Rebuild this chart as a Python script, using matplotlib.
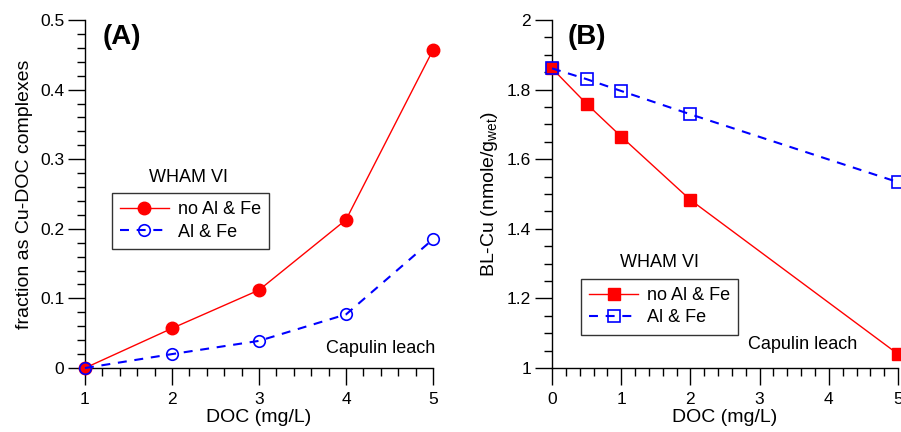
import matplotlib
matplotlib.use('Agg')
import matplotlib.pyplot as plt
from matplotlib.ticker import MultipleLocator

plt.rcParams['font.family'] = ['Liberation Sans', 'DejaVu Sans']

# panel A: fraction as Cu-DOC complexes
doc_a = [1, 2, 3, 4, 5]
frac_noalfe = [0.0, 0.057, 0.112, 0.213, 0.457]
frac_alfe = [0.0, 0.020, 0.039, 0.077, 0.185]

# panel B: BL-Cu
doc_b = [0, 0.5, 1, 2, 5]
blcu_noalfe = [1.861, 1.759, 1.665, 1.483, 1.040]
blcu_alfe = [1.861, 1.830, 1.796, 1.729, 1.534]

lab_no = 'no Al & Fe'
lab_al = 'Al & Fe'

fig = plt.figure(figsize=(9.01, 4.32), dpi=100)
axA = fig.add_axes([0.0943, 0.1481, 0.3863, 0.8056])
axB = fig.add_axes([0.6127, 0.1481, 0.3840, 0.8056])


def style(ax):
    for s in ['top', 'right']:
        ax.spines[s].set_visible(False)
    for s in ['left', 'bottom']:
        ax.spines[s].set_linewidth(1.0)
    ax.tick_params(which='major', direction='out', length=12, width=1, labelsize=12.5)
    ax.tick_params(which='minor', direction='out', length=6, width=1)
    ax.tick_params(axis='x', pad=5)
    ax.tick_params(axis='y', pad=3)


def legend(ax, x, y):
    leg = ax.legend(loc='upper left', bbox_to_anchor=(x, y), fontsize=13, frameon=True,
                    fancybox=False, edgecolor='#333333', handlelength=2.7, borderpad=0.45,
                    labelspacing=0.3, handletextpad=0.5, borderaxespad=0, framealpha=1)
    leg.get_frame().set_linewidth(1.0)
    return leg


# ---- A ----
axA.plot(doc_a, frac_noalfe, '-', color='red', lw=1, marker='o', ms=9,
         mfc='red', mec='red', clip_on=False, zorder=3, label=lab_no)
axA.plot(doc_a, frac_alfe, '--', color='blue', lw=1.5, dashes=(4.3, 3.7), marker='o', ms=8.3,
         mfc='none', mec='blue', mew=1.2, clip_on=False, zorder=3, label=lab_al)
axA.set_xlim(1, 5)
axA.set_ylim(0, 0.5)
axA.xaxis.set_major_locator(MultipleLocator(1))
axA.xaxis.set_minor_locator(MultipleLocator(0.2))
axA.yaxis.set_major_locator(MultipleLocator(0.1))
axA.yaxis.set_minor_locator(MultipleLocator(0.02))
axA.yaxis.set_major_formatter(plt.FuncFormatter(lambda v, p: '%g' % round(v, 2)))
style(axA)
axA.set_xlabel('DOC (mg/L)', fontsize=14, labelpad=2)
axA.set_ylabel('fraction as Cu-DOC complexes', fontsize=14, labelpad=5)
axA.text(0.05, 0.95, '(A)', transform=axA.transAxes, fontsize=20, fontweight='bold', va='center')
axA.text(0.298, 0.548, 'WHAM VI', transform=axA.transAxes, fontsize=13, ha='center', va='center')
axA.text(1.005, 0.055, 'Capulin leach', transform=axA.transAxes, fontsize=13, ha='right', va='center')
legend(axA, 0.0776, 0.503)

# ---- B ----
axB.plot(doc_b, blcu_noalfe, '-', color='red', lw=1, marker='s', ms=8.8,
         mfc='red', mec='red', clip_on=False, zorder=3, label=lab_no)
axB.plot(doc_b, blcu_alfe, '--', color='blue', lw=1.5, dashes=(4.3, 3.7), marker='s', ms=8,
         mfc='none', mec='blue', mew=1.2, clip_on=False, zorder=3, label=lab_al)
axB.set_xlim(0, 5)
axB.set_ylim(1, 2)
axB.xaxis.set_major_locator(MultipleLocator(1))
axB.xaxis.set_minor_locator(MultipleLocator(0.2))
axB.yaxis.set_major_locator(MultipleLocator(0.2))
axB.yaxis.set_minor_locator(MultipleLocator(0.05))
axB.yaxis.set_major_formatter(plt.FuncFormatter(lambda v, p: '%g' % round(v, 2)))
style(axB)
axB.set_xlabel('DOC (mg/L)', fontsize=14, labelpad=2)
axB.set_ylabel(r'BL-Cu (nmole/g$_{\mathregular{wet}}$)', fontsize=14, labelpad=5)
axB.text(0.045, 0.95, '(B)', transform=axB.transAxes, fontsize=20, fontweight='bold', va='center')
axB.text(0.312, 0.302, 'WHAM VI', transform=axB.transAxes, fontsize=13, ha='center', va='center')
axB.text(0.882, 0.069, 'Capulin leach', transform=axB.transAxes, fontsize=13, ha='right', va='center')
legend(axB, 0.084, 0.256)

fig.savefig('out.png', dpi=100)
